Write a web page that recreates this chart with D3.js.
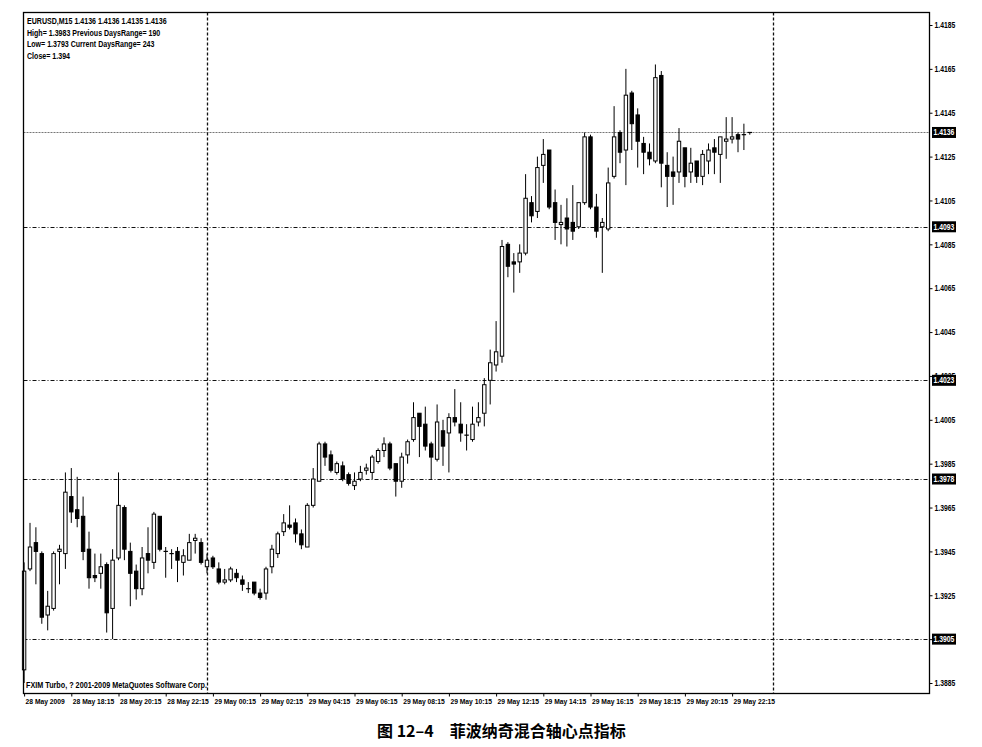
<!DOCTYPE html>
<html><head><meta charset="utf-8">
<script src="https://cdn.jsdelivr.net/npm/d3@7"></script>
<style>body{margin:0;background:#fff}</style></head>
<body><svg id="c" width="982" height="747"></svg>
<script>
// ---- data (EURUSD M15, 28 May 16:15 -> 29 May 23:00) ----
const open = [
1.3891,1.3937,1.3949,1.3944,1.3916,1.3919,1.3945,1.3944,1.3970,1.3964,
1.3961,1.3946,1.3934,1.3935,1.3939,1.3919,1.3942,1.3965,1.3945,1.3936,
1.3928,1.3944,1.3940,1.3961,1.3945,1.3944,1.3945,1.3940,1.3941,1.3950,
1.3949,1.3938,1.3942,1.3937,1.3931,1.3932,1.3935,1.3932,1.3928,1.3931,
1.3926,1.3926,1.3938,1.3944,1.3954,1.3957,1.3958,1.3953,1.3947,1.3966,
1.3977,1.3994,1.3989,1.3981,1.3984,1.3980,1.3975,1.3978,1.3982,1.3981,
1.3986,1.3991,1.3994,1.3985,1.3977,1.3989,1.3996,1.4008,1.4003,1.3994,
1.3987,1.4000,1.3999,1.4006,1.4003,1.3998,1.3996,1.4004,1.4008,1.4023,
1.4030,1.4034,1.4085,1.4077,1.4077,1.4081,1.4104,1.4100,1.4121,1.4128,
1.4104,1.4094,1.4097,1.4095,1.4093,1.4104,1.4134,1.4102,1.4093,1.4092,
1.4116,1.4136,1.4128,1.4154,1.4144,1.4131,1.4127,1.4123,1.4162,1.4121,
1.4118,1.4118,1.4129,1.4118,1.4123,1.4116,1.4123,1.4129,1.4126,1.4132,
1.4133,1.4135,1.4135,1.4136];
const high = [
1.3940,1.3958,1.3956,1.3945,1.3927,1.3945,1.3948,1.3981,1.3983,1.3979,
1.3970,1.3954,1.3944,1.3944,1.3940,1.3946,1.3981,1.3966,1.3949,1.3939,
1.3947,1.3956,1.3963,1.3961,1.3947,1.3946,1.3947,1.3946,1.3953,1.3953,
1.3951,1.3944,1.3943,1.3940,1.3937,1.3938,1.3937,1.3934,1.3931,1.3931,
1.3928,1.3938,1.3948,1.3954,1.3962,1.3966,1.3960,1.3955,1.3967,1.3983,
1.3995,1.3995,1.3991,1.3986,1.3986,1.3981,1.3981,1.3984,1.3985,1.3989,
1.3992,1.3997,1.3995,1.3985,1.3990,1.3996,1.4013,1.4008,1.4011,1.3995,
1.4012,1.4005,1.4008,1.4019,1.4013,1.4003,1.4011,1.4013,1.4024,1.4037,
1.4050,1.4087,1.4086,1.4081,1.4085,1.4117,1.4107,1.4125,1.4133,1.4128,
1.4110,1.4103,1.4106,1.4112,1.4104,1.4136,1.4135,1.4108,1.4097,1.4120,
1.4148,1.4137,1.4165,1.4155,1.4147,1.4134,1.4131,1.4167,1.4164,1.4127,
1.4125,1.4138,1.4129,1.4129,1.4123,1.4128,1.4131,1.4133,1.4134,1.4143,
1.4143,1.4136,1.4140,1.4136];
const low = [
1.3885,1.3936,1.3930,1.3912,1.3909,1.3918,1.3930,1.3937,1.3958,1.3956,
1.3941,1.3928,1.3931,1.3928,1.3908,1.3905,1.3941,1.3941,1.3920,1.3923,
1.3925,1.3935,1.3937,1.3945,1.3933,1.3937,1.3931,1.3934,1.3941,1.3944,
1.3939,1.3935,1.3937,1.3930,1.3930,1.3931,1.3931,1.3927,1.3926,1.3925,
1.3923,1.3923,1.3935,1.3942,1.3952,1.3955,1.3949,1.3946,1.3947,1.3965,
1.3977,1.3984,1.3981,1.3980,1.3977,1.3975,1.3973,1.3977,1.3980,1.3978,
1.3985,1.3988,1.3982,1.3970,1.3974,1.3985,1.3995,1.3988,1.3991,1.3978,
1.3986,1.3984,1.3981,1.4002,1.3995,1.3991,1.3995,1.4002,1.4002,1.4012,
1.4027,1.4031,1.4070,1.4063,1.4072,1.4080,1.4095,1.4097,1.4113,1.4101,
1.4087,1.4085,1.4084,1.4087,1.4092,1.4103,1.4101,1.4088,1.4072,1.4091,
1.4115,1.4122,1.4112,1.4128,1.4120,1.4117,1.4121,1.4122,1.4111,1.4102,
1.4103,1.4113,1.4111,1.4113,1.4113,1.4112,1.4117,1.4117,1.4113,1.4124,
1.4131,1.4127,1.4128,1.4135];
const close = [
1.3936,1.3947,1.3945,1.3915,1.3920,1.3944,1.3946,1.3972,1.3963,1.3960,
1.3945,1.3933,1.3933,1.3938,1.3917,1.3941,1.3966,1.3946,1.3935,1.3928,
1.3942,1.3941,1.3962,1.3946,1.3945,1.3944,1.3941,1.3943,1.3949,1.3951,
1.3940,1.3941,1.3938,1.3931,1.3932,1.3937,1.3933,1.3930,1.3928,1.3926,
1.3924,1.3937,1.3946,1.3953,1.3958,1.3956,1.3953,1.3948,1.3966,1.3978,
1.3994,1.3988,1.3982,1.3985,1.3978,1.3976,1.3977,1.3981,1.3983,1.3988,
1.3991,1.3994,1.3983,1.3977,1.3988,1.3995,1.4006,1.4002,1.3993,1.3988,
1.4004,1.3993,1.4006,1.4004,1.3999,1.3998,1.4003,1.4006,1.4021,1.4031,
1.4036,1.4084,1.4075,1.4076,1.4081,1.4106,1.4098,1.4120,1.4126,1.4102,
1.4095,1.4095,1.4092,1.4091,1.4104,1.4134,1.4102,1.4091,1.4095,1.4113,
1.4134,1.4127,1.4153,1.4140,1.4132,1.4127,1.4124,1.4161,1.4122,1.4116,
1.4116,1.4132,1.4116,1.4122,1.4116,1.4126,1.4128,1.4127,1.4134,1.4133,
1.4134,1.4133,1.4135,1.4136];

const priceTicks = [1.4185,1.4165,1.4145,1.4125,1.4105,1.4085,1.4065,1.4045,1.4025,1.4005,1.3985,1.3965,1.3945,1.3925,1.3905,1.3885];
const timeTickIdx = [0,8,16,24,32,40,48,56,64,72,80,88,96,104,112,120];
const timeLabels = ["28 May 2009","28 May 18:15","28 May 20:15","28 May 22:15","29 May 00:15","29 May 02:15","29 May 04:15","29 May 06:15","29 May 08:15","29 May 10:15","29 May 12:15","29 May 14:15","29 May 16:15","29 May 18:15","29 May 20:15","29 May 22:15"];
const daySeparatorIdx = [31,127];
const pivotLevels = [1.4093,1.4023,1.3978,1.3905];
const bidPrice = 1.4136;
const infoLines = ["EURUSD,M15  1.4136 1.4136 1.4135 1.4136","High= 1.3983 Previous DaysRange= 190","Low= 1.3793 Current DaysRange= 243","Close= 1.394"];
const copyright = "FXIM Turbo, ? 2001-2009 MetaQuotes Software Corp.";
const caption = "图 12–4\u3000菲波纳奇混合轴心点指标";

// ---- layout ----
const L = 23.5, R = 929.5, T = 12.5, B = 693.5;
const FONT = "'Liberation Sans',Arial,sans-serif";
const svg = d3.select("#c");
const x = d3.scaleLinear().domain([0, open.length - 1]).range([24.1, 24.1 + 5.9 * (open.length - 1)]);
const y = d3.scaleLinear().domain([1.3885, 1.4185]).range([683, 25]);

// condense text horizontally (narrow MT4 font look)
function condense(sel, k) {
  sel.each(function () {
    const w = this.getComputedTextLength();
    d3.select(this).attr("textLength", (w * k).toFixed(1)).attr("lengthAdjust", "spacingAndGlyphs");
  });
}
function smallFont(sel, size) {
  sel.attr("font-family", FONT).attr("font-size", size + "px").attr("font-weight", "bold");
}

svg.append("rect").attr("width",982).attr("height",747).attr("fill","#fff");

// pivot lines
svg.append("g").selectAll("line").data(pivotLevels).join("line")
  .attr("x1", L).attr("x2", R).attr("y1", d => Math.round(y(d)) + 0.5).attr("y2", d => Math.round(y(d)) + 0.5)
  .attr("stroke", "#111").attr("stroke-width", 1).attr("stroke-dasharray", "4,2,1,2");
// bid line
svg.append("line").attr("x1", L).attr("x2", R)
  .attr("y1", Math.round(y(bidPrice)) + 0.5).attr("y2", Math.round(y(bidPrice)) + 0.5)
  .attr("stroke", "#666").attr("stroke-width", 0.9).attr("stroke-dasharray", "2,1");
// day separators
svg.append("g").selectAll("line").data(daySeparatorIdx).join("line")
  .attr("x1", d => Math.round(x(d)) + 0.5).attr("x2", d => Math.round(x(d)) + 0.5)
  .attr("y1", T).attr("y2", B)
  .attr("stroke", "#111").attr("stroke-width", 1.3).attr("stroke-dasharray", "3,2");

// candles
const idx = d3.range(open.length);
const cg = svg.append("g");
cg.selectAll("line.w").data(idx).join("line").attr("class","w")
  .attr("x1", i => x(i)).attr("x2", i => x(i))
  .attr("y1", i => y(high[i])).attr("y2", i => y(low[i]))
  .attr("stroke", "#000").attr("stroke-width", 1);
cg.selectAll("rect.b").data(idx.filter(i => open[i] !== close[i])).join("rect").attr("class","b")
  .attr("x", i => x(i) - 1.7).attr("width", 3.4)
  .attr("y", i => y(Math.max(open[i], close[i])))
  .attr("height", i => Math.max(1, Math.abs(y(open[i]) - y(close[i]))))
  .attr("fill", i => close[i] > open[i] ? "#fff" : "#000")
  .attr("stroke", "#000").attr("stroke-width", 1);
cg.selectAll("line.d").data(idx.filter(i => open[i] === close[i])).join("line").attr("class","d")
  .attr("x1", i => x(i) - 2.2).attr("x2", i => x(i) + 2.2)
  .attr("y1", i => y(open[i])).attr("y2", i => y(open[i]))
  .attr("stroke", "#000").attr("stroke-width", 1.2);

// frame
svg.append("rect").attr("x", L).attr("y", T).attr("width", R - L).attr("height", B - T)
  .attr("fill", "none").attr("stroke", "#000").attr("stroke-width", 1.3);

// right axis
const ya = svg.append("g").attr("transform", `translate(${R},0)`)
  .call(d3.axisRight(y).tickValues(priceTicks).tickSize(3).tickPadding(2).tickFormat(d3.format(".4f")));
ya.select(".domain").remove();
ya.selectAll("text").call(smallFont, 8.5).attr("fill", "#000").call(condense, 0.8);

// price boxes
const boxes = [bidPrice].concat(pivotLevels);
const bg = svg.append("g");
bg.selectAll("rect").data(boxes).join("rect")
  .attr("x", R + 2.5).attr("y", d => y(d) - 5.5).attr("width", 24).attr("height", 11).attr("fill", "#000");
bg.selectAll("text").data(boxes).join("text")
  .attr("x", R + 4).attr("y", d => y(d) + 3).text(d => d3.format(".4f")(d))
  .call(smallFont, 8.5).attr("fill", "#fff").call(condense, 0.8);

// bottom axis
const xa = svg.append("g").attr("transform", `translate(0,${B})`)
  .call(d3.axisBottom(x).tickValues(timeTickIdx).tickSize(3).tickFormat((d, i) => timeLabels[i]));
xa.select(".domain").remove();
xa.selectAll("text").attr("text-anchor", "start").attr("x", 1).attr("y", 5).attr("dy", "0.71em")
  .call(smallFont, 8).attr("fill", "#000").call(condense, 0.84);

// info text
svg.append("g").selectAll("text").data(infoLines).join("text")
  .attr("x", 27).attr("y", (d, i) => 24 + i * 11.5).text(d => d)
  .call(smallFont, 8.5).attr("fill", "#000").call(condense, 0.83);
svg.append("text").attr("x", 26).attr("y", 688).text(copyright)
  .call(smallFont, 8.5).attr("fill", "#000").call(condense, 0.85);

// caption
svg.append("text").attr("x", 377).attr("y", 737).text(caption)
  .attr("font-family", "'Noto Sans CJK SC',sans-serif").attr("font-size", "16px").attr("font-weight", "bold").attr("fill", "#000");
</script></body></html>
